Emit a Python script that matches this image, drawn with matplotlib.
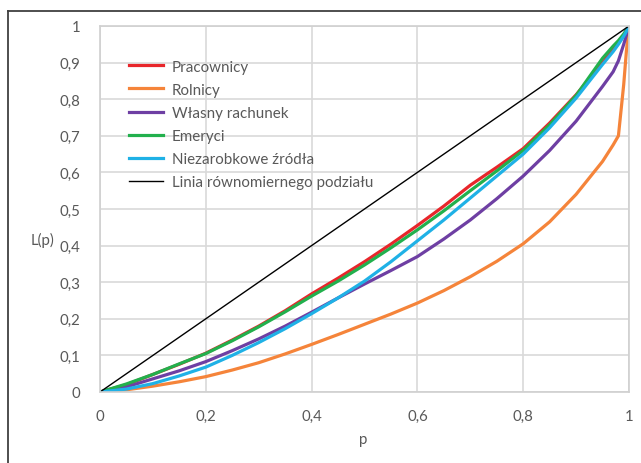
import matplotlib
matplotlib.use('Agg')
import matplotlib.pyplot as plt
from matplotlib.lines import Line2D
from matplotlib.ticker import FuncFormatter

# udział populacji p oraz skumulowany udział dochodu L(p)
p = [0, 0.05, 0.1, 0.15, 0.2, 0.25, 0.3, 0.35, 0.4, 0.45, 0.5, 0.55, 0.6, 0.65, 0.7, 0.75,
     0.8, 0.85, 0.9, 0.95, 0.97, 0.98, 0.99, 0.995, 1]

pracownicy = [0, 0.020, 0.048, 0.076, 0.106, 0.142, 0.180, 0.222, 0.268, 0.311, 0.356, 0.404, 0.455,
              0.508, 0.565, 0.614, 0.665, 0.735, 0.812, 0.900, 0.935, 0.953, 0.975, 0.988, 1]
rolnicy = [0, 0.006, 0.016, 0.028, 0.042, 0.060, 0.080, 0.104, 0.130, 0.157, 0.185, 0.213, 0.243,
           0.277, 0.315, 0.357, 0.405, 0.465, 0.540, 0.630, 0.675, 0.700, 0.840, 0.930, 1]
wlasny = [0, 0.014, 0.036, 0.058, 0.083, 0.113, 0.145, 0.180, 0.218, 0.257, 0.295, 0.332, 0.370,
          0.418, 0.470, 0.528, 0.590, 0.660, 0.740, 0.835, 0.875, 0.905, 0.950, 0.975, 1]
emeryci = [0, 0.022, 0.048, 0.077, 0.105, 0.140, 0.178, 0.219, 0.262, 0.303, 0.347, 0.394, 0.443,
           0.495, 0.550, 0.604, 0.660, 0.730, 0.810, 0.912, 0.945, 0.960, 0.978, 0.989, 1]
niezarobkowe = [0, 0.008, 0.023, 0.044, 0.068, 0.100, 0.135, 0.173, 0.214, 0.257, 0.303, 0.356, 0.413,
                0.470, 0.530, 0.590, 0.650, 0.722, 0.803, 0.895, 0.930, 0.950, 0.972, 0.985, 1]
rowny_p = [0, 1]
rowny_L = [0, 1]

plt.rcParams['font.family'] = ['Lato', 'DejaVu Sans']
grey = '#595959'

fig = plt.figure(figsize=(6.41, 4.64), dpi=100)
ax = fig.add_axes([100 / 641, 71 / 464, 529 / 641, 366 / 464])

ax.plot(p, pracownicy, color='#e8262b', lw=2.3, label='Pracownicy')
ax.plot(p, rolnicy, color='#f5843a', lw=2.3, label='Rolnicy')
ax.plot(p, wlasny, color='#6e3fa3', lw=2.3, label='Własny rachunek')
ax.plot(p, emeryci, color='#22b04d', lw=2.3, label='Emeryci')
ax.plot(p, niezarobkowe, color='#1fb1e6', lw=2.3, label='Niezarobkowe źródła')
ax.plot(rowny_p, rowny_L, color='black', lw=1.0, label='Linia równomiernego podziału')

ax.set_xlim(0, 1)
ax.set_ylim(0, 1)
ax.set_xticks([0, 0.2, 0.4, 0.6, 0.8, 1])
ax.set_yticks([0, 0.1, 0.2, 0.3, 0.4, 0.5, 0.6, 0.7, 0.8, 0.9, 1])
fmt = FuncFormatter(lambda v, pos: ('%g' % round(v, 1)).replace('.', ','))
ax.xaxis.set_major_formatter(fmt)
ax.yaxis.set_major_formatter(fmt)
ax.tick_params(length=0, labelsize=10.8, colors=grey)
ax.tick_params(axis='y', pad=14)
ax.tick_params(axis='x', pad=12)
ax.grid(True, color='#d9d9d9', lw=1.2)
ax.set_axisbelow(True)
for s in ax.spines.values():
    s.set_color('#d0d0d0')
    s.set_linewidth(1.2)

fig.text(43 / 641, 1 - 240 / 464, 'L(p)', ha='center', va='center', fontsize=10.8, color=grey)
fig.text(363 / 641, 1 - 440 / 464, 'p', ha='center', va='center', fontsize=10.8, color=grey)

ax.legend(loc='upper left', bbox_to_anchor=(0.054, 0.908), frameon=False,
          fontsize=10.9, handlelength=2.3, handletextpad=0.55, labelspacing=0.6,
          borderpad=0, borderaxespad=0, labelcolor=grey)

# ramka wykresu
fig.add_artist(Line2D([8 / 641, 8 / 641], [0, 1 - 12 / 464], transform=fig.transFigure, color='#404040', lw=1.3))
fig.add_artist(Line2D([8 / 641, 1], [1 - 12 / 464, 1 - 12 / 464], transform=fig.transFigure, color='#404040', lw=1.3))

fig.savefig('out.png', dpi=100)
